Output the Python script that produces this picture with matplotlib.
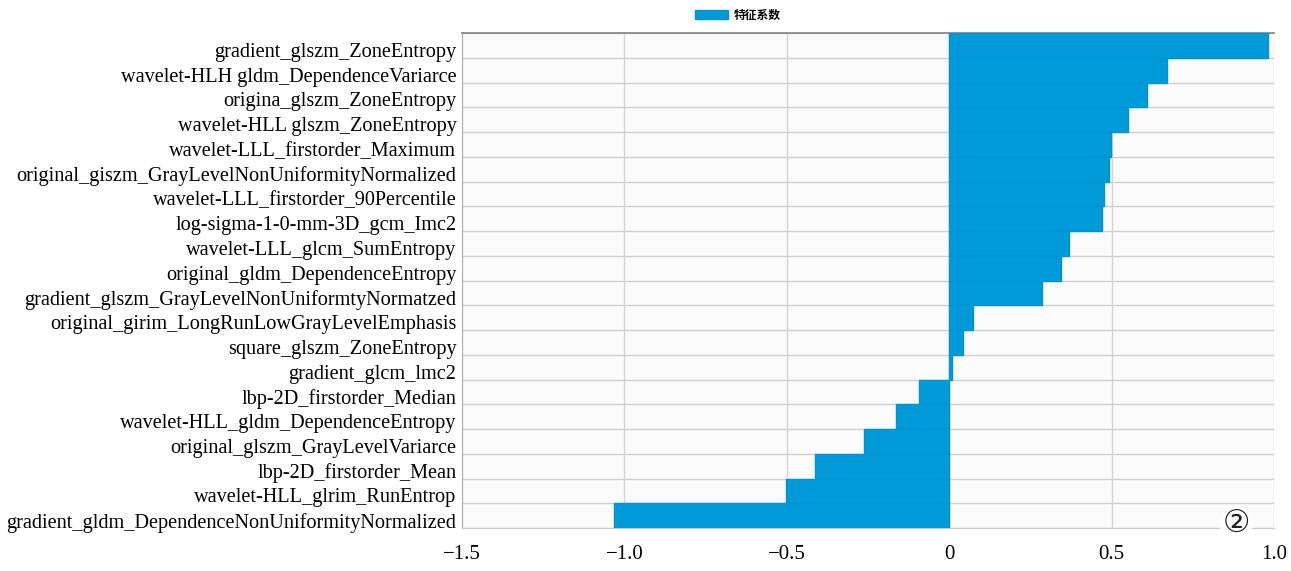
import matplotlib
matplotlib.use("Agg")
import matplotlib.pyplot as plt
import matplotlib.transforms as mtransforms
import numpy as np

features = [
    "gradient_glszm_ZoneEntropy",
    "wavelet-HLH gldm_DependenceVariarce",
    "origina_glszm_ZoneEntropy",
    "wavelet-HLL glszm_ZoneEntropy",
    "wavelet-LLL_firstorder_Maximum",
    "original_giszm_GrayLevelNonUniformityNormalized",
    "wavelet-LLL_firstorder_90Percentile",
    "log-sigma-1-0-mm-3D_gcm_Imc2",
    "wavelet-LLL_glcm_SumEntropy",
    "original_gldm_DependenceEntropy",
    "gradient_glszm_GrayLevelNonUniformtyNormatzed",
    "original_girim_LongRunLowGrayLevelEmphasis",
    "square_glszm_ZoneEntropy",
    "gradient_glcm_lmc2",
    "lbp-2D_firstorder_Median",
    "wavelet-HLL_gldm_DependenceEntropy",
    "original_glszm_GrayLevelVariarce",
    "lbp-2D_firstorder_Mean",
    "wavelet-HLL_glrim_RunEntrop",
    "gradient_gldm_DependenceNonUniformityNormalized",
]
coefficients = [0.98, 0.67, 0.61, 0.55, 0.497, 0.493, 0.477, 0.469, 0.37, 0.343,
                0.287, 0.074, 0.043, 0.01, -0.092, -0.163, -0.261, -0.413, -0.503, -1.031]
xticks = [-1.5, -1.0, -0.5, 0.0, 0.5, 1.0]
xticklabels = ["\u22121.5", "\u22121.0", "\u22120.5", "0", "0.5", "1.0"]
legend_label = "特征系数"

fig = plt.figure(figsize=(12.91, 5.71), dpi=100)
ax = fig.add_axes([462/1291, 1-528/571, (1274-462)/1291, (528-33)/571])
ax.set_facecolor("#fbfbfb")

y = np.arange(len(features))
ax.barh(y, coefficients, height=1.0, color="#009ad8", edgecolor="#0092d2",
        linewidth=1.0, label=legend_label, zorder=3)

ax.set_xlim(-1.5, 1.0)
ax.set_ylim(len(features) - 0.5, -0.5)
ax.set_xticks(xticks)
ax.set_xticklabels(xticklabels, fontfamily="Liberation Serif", fontsize=15)
ax.set_yticks(y)
ax.set_yticklabels(features, fontfamily="Liberation Serif", fontsize=14.6)
ax.set_yticks(np.arange(len(features) + 1) - 0.5, minor=True)
ax.tick_params(axis="y", which="both", length=0, pad=4)
ax.tick_params(axis="x", length=0, pad=12)
offset = mtransforms.ScaledTranslation(0, -4.5/100, fig.dpi_scale_trans)
for lab in ax.get_yticklabels():
    lab.set_transform(lab.get_transform() + offset)

ax.grid(axis="x", which="major", color="#d4d4d4", linewidth=1.0, zorder=0)
ax.grid(axis="y", which="minor", color="#cfcfcf", linewidth=1.0, zorder=0)
ax.grid(axis="y", which="major", visible=False)

ax.spines["right"].set_visible(False)
ax.spines["bottom"].set_color("#c8c8c8")
ax.spines["top"].set_color("#8a8a8a")
ax.spines["top"].set_linewidth(1.3)
ax.spines["left"].set_color("#b0b0b0")

leg = ax.legend(loc="center", bbox_to_anchor=(738/1291, 1-15/571),
                bbox_transform=fig.transFigure, frameon=False,
                prop={"family": ["Noto Sans CJK SC", "DejaVu Sans"], "size": 8.5, "weight": "bold"},
                handlelength=2.8, handleheight=0.9, handletextpad=0.5,
                borderpad=0.2)

fig.text(1236/1291, 1-523/571, "②", fontsize=22, fontfamily=["DejaVu Serif", "DejaVu Sans"],
         ha="center", va="center", color="#222222",
         bbox=dict(boxstyle="circle,pad=0.05", facecolor="white", edgecolor="none"))

fig.savefig("out.png", dpi=100, facecolor="white")
